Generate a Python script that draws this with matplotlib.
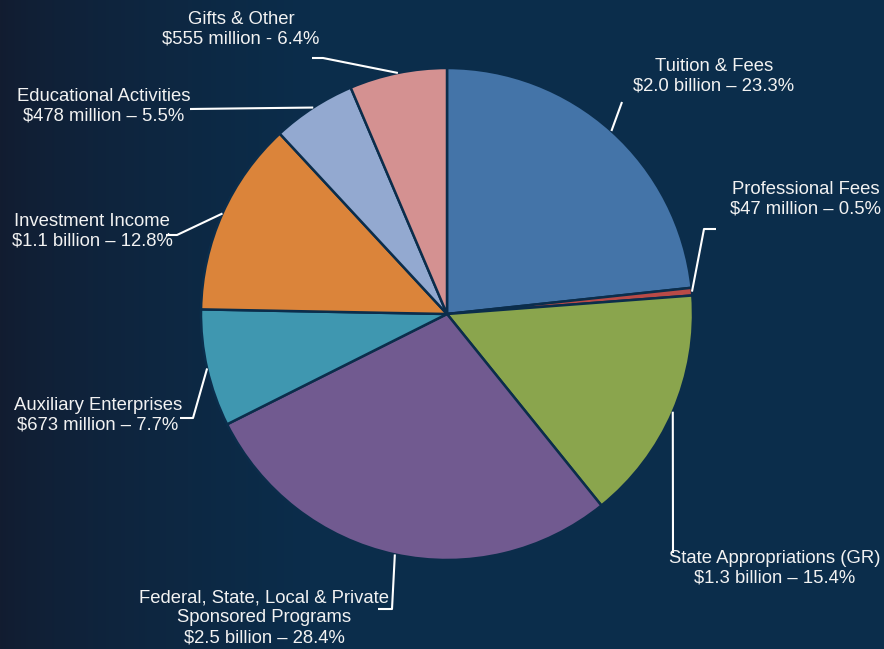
import numpy as np
import matplotlib
matplotlib.use("Agg")
import matplotlib.pyplot as plt

# ---- data ----
categories = ["Tuition & Fees", "Professional Fees", "State Appropriations (GR)",
              "Federal, State, Local & Private\nSponsored Programs", "Auxiliary Enterprises",
              "Investment Income", "Educational Activities", "Gifts & Other"]
amounts = ["$2.0 billion", "$47 million", "$1.3 billion", "$2.5 billion",
           "$673 million", "$1.1 billion", "$478 million", "$555 million"]
percents = [23.3, 0.5, 15.4, 28.4, 7.7, 12.8, 5.5, 6.4]
separators = [" \u2013 ", " \u2013 ", " \u2013 ", " \u2013 ", " \u2013 ", " \u2013 ", " \u2013 ", " - "]

# ---- styles ----
colors = ["#4474a8", "#b94a47", "#8aa54d", "#715a90", "#3f97b0", "#db843a", "#93a9d0", "#d49191"]
explode = [0, 0, 0.02, 0.01, 0, 0, 0, 0]
BG = "#0b2d4b"
W, H = 884, 649
CX, CY, R = 447, H - 314, 246

# label layout: (text block center x, center y in pixel rows), elbow points (pixel rows)
label_pos = [(714, 76), (806, 199), (775, 568), (264, 618), (98, 415), (92, 231), (104, 106), (241, 29)]
elbows = [
    [(622, 102)],
    [(704, 229), (716, 229)],
    [(673, 553)],
    [(392, 609), (378, 609)],
    [(193, 418), (180, 418)],
    [(177, 235), (166, 235)],
    [(190, 109)],
    [(323, 58), (312, 58)],
]

fig = plt.figure(figsize=(W / 100, H / 100), dpi=100)
ax = fig.add_axes([0, 0, 1, 1])

# background gradient
xs = np.linspace(0, 1, W)
left = np.array([18, 28, 48]) / 255
right = np.array([11, 45, 75]) / 255
t = np.clip(xs / 0.35, 0, 1) ** 0.7
grad = left[None, :] * (1 - t[:, None]) + right[None, :] * t[:, None]
img = np.repeat(grad[None, :, :], 2, axis=0)
ax.imshow(img, extent=(0, W, 0, H), aspect="auto", zorder=0)

wedges, _ = ax.pie(percents, startangle=90, counterclock=False, colors=colors,
                   explode=explode, center=(CX, CY), radius=R, frame=True,
                   wedgeprops=dict(edgecolor=BG, linewidth=1.8, zorder=2))

for i, w in enumerate(wedges):
    mid = np.deg2rad((w.theta1 + w.theta2) / 2)
    cx, cy = w.center
    px, py = cx + R * np.cos(mid), cy + R * np.sin(mid)
    pts = [(px, py)] + [(ex, H - ey) for ex, ey in elbows[i]]
    ax.plot([p[0] for p in pts], [p[1] for p in pts], color="white", lw=1.5,
            solid_capstyle="butt", zorder=3)
    lx, ly = label_pos[i]
    txt = f"{categories[i]}\n{amounts[i]}{separators[i]}{percents[i]}%"
    ax.text(lx, H - ly, txt, ha="center", va="center", color="#f2f2f2",
            fontsize=13.3, family="Liberation Sans", linespacing=1.22, zorder=4)

ax.set_xlim(0, W)
ax.set_ylim(0, H)
ax.axis("off")
fig.savefig("out.png", dpi=100, facecolor=BG)
